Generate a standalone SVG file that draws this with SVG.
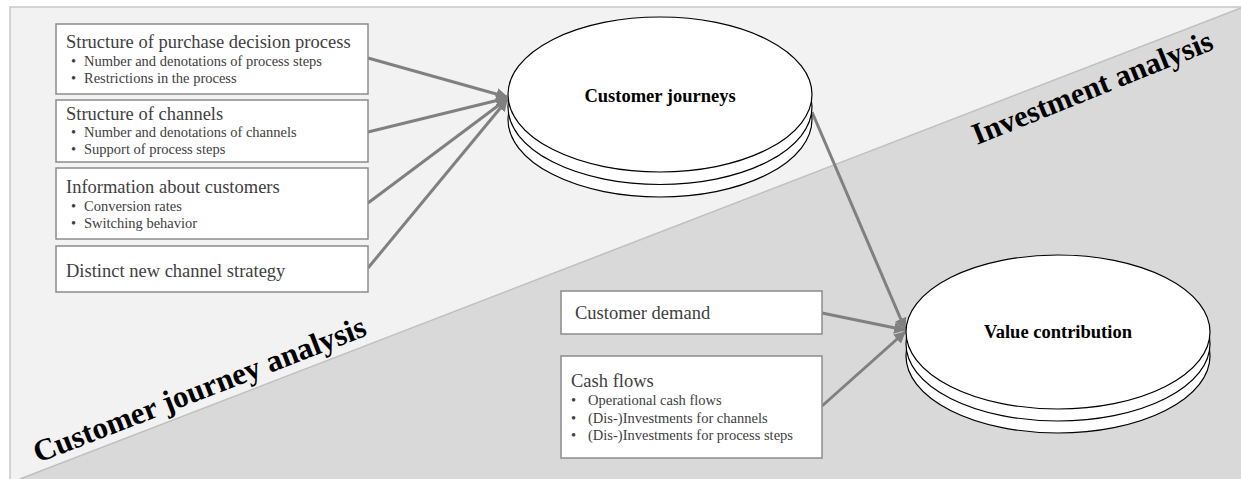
<svg xmlns="http://www.w3.org/2000/svg" width="1241" height="479" viewBox="0 0 1241 479">
<defs>
<style>
.box{fill:#fff;stroke:#8c8c8c;stroke-width:1.5}
.t{font-family:"Liberation Serif","Times New Roman",serif;fill:#404040}
.h{font-size:18.5px}
.b{font-size:14.5px}
.disk{fill:#fff;stroke:#000;stroke-width:1.2}
.lbl{font-family:"Liberation Serif","Times New Roman",serif;font-weight:bold;fill:#000}
.con{stroke:#808080;stroke-width:3;fill:none;marker-end:url(#ah)}
</style>
<marker id="ah" viewBox="0 0 10 10" refX="9" refY="5" markerWidth="4" markerHeight="4" orient="auto" markerUnits="strokeWidth">
<path d="M0,0 L10,5 L0,10 z" fill="#808080"/>
</marker>
</defs>
<rect x="0" y="0" width="1241" height="479" fill="#fff"/>
<rect x="10" y="7" width="1235" height="480" fill="#f2f2f2" stroke="#c8c8c8" stroke-width="1.5"/>
<polygon points="20,479 1241,8 1241,479" fill="#d9d9d9"/>
<line x1="20" y1="479" x2="1241" y2="8" stroke="#bfbfbf" stroke-width="1.5"/>

<text class="lbl" font-size="30.5" transform="translate(977,145) rotate(-22)">Investment analysis</text>
<text class="lbl" font-size="31" transform="translate(38,463) rotate(-21.2)">Customer journey analysis</text>

<g id="connectors">
<line class="con" x1="368" y1="58" x2="507" y2="97"/>
<line class="con" x1="368" y1="132" x2="507" y2="98"/>
<line class="con" x1="368" y1="203" x2="507" y2="99"/>
<line class="con" x1="368" y1="268" x2="507" y2="100"/>
<line class="con" x1="812" y1="112" x2="905" y2="329"/>
<line class="con" x1="822" y1="313" x2="905" y2="330"/>
<line class="con" x1="822" y1="406" x2="905" y2="332"/>
</g>

<g id="box1">
<rect class="box" x="56" y="24" width="312" height="70"/>
<text class="t h" x="66" y="48">Structure of purchase decision process</text>
<text class="t b" x="71" y="66">•</text><text class="t b" x="84" y="66">Number and denotations of process steps</text>
<text class="t b" x="71" y="83">•</text><text class="t b" x="84" y="83">Restrictions in the process</text>
</g>
<g id="box2">
<rect class="box" x="56" y="100" width="312" height="62"/>
<text class="t h" x="66" y="120">Structure of channels</text>
<text class="t b" x="71" y="137">•</text><text class="t b" x="84" y="137">Number and denotations of channels</text>
<text class="t b" x="71" y="154">•</text><text class="t b" x="84" y="154">Support of process steps</text>
</g>
<g id="box3">
<rect class="box" x="56" y="168" width="312" height="71"/>
<text class="t h" x="66" y="193">Information about customers</text>
<text class="t b" x="71" y="211">•</text><text class="t b" x="84" y="211">Conversion rates</text>
<text class="t b" x="71" y="228">•</text><text class="t b" x="84" y="228">Switching behavior</text>
</g>
<g id="box4">
<rect class="box" x="56" y="246" width="312" height="46"/>
<text class="t h" x="66" y="277">Distinct new channel strategy</text>
</g>
<g id="box5">
<rect class="box" x="561" y="291" width="261" height="43"/>
<text class="t h" x="575" y="319">Customer demand</text>
</g>
<g id="box6">
<rect class="box" x="561" y="356" width="261" height="102"/>
<text class="t h" x="571" y="387">Cash flows</text>
<text class="t b" x="571" y="405">•</text><text class="t b" x="588" y="405">Operational cash flows</text>
<text class="t b" x="571" y="423">•</text><text class="t b" x="588" y="423">(Dis-)Investments for channels</text>
<text class="t b" x="571" y="440">•</text><text class="t b" x="588" y="440">(Dis-)Investments for process steps</text>
</g>

<g id="customer-journeys">
<ellipse class="disk" cx="660" cy="119.5" rx="152" ry="77.5"/>
<ellipse class="disk" cx="660" cy="107" rx="152" ry="77.5"/>
<ellipse class="disk" cx="660" cy="94.5" rx="152" ry="77.5"/>
<text class="lbl" font-size="18.5" x="660" y="102" text-anchor="middle">Customer journeys</text>
</g>
<g id="value-contribution">
<ellipse class="disk" cx="1058" cy="356" rx="152" ry="77"/>
<ellipse class="disk" cx="1058" cy="344" rx="152" ry="77"/>
<ellipse class="disk" cx="1058" cy="332" rx="152" ry="77"/>
<text class="lbl" font-size="18.5" x="1058" y="338" text-anchor="middle">Value contribution</text>
</g>
</svg>
